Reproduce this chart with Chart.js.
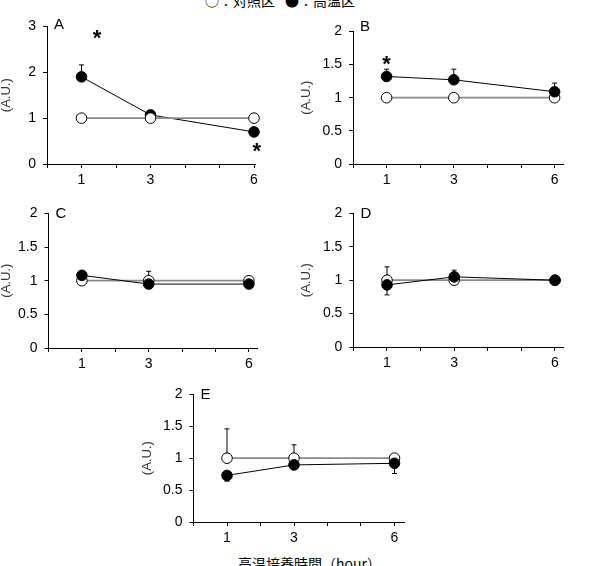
<!DOCTYPE html>
<html>
<head>
<meta charset="utf-8">
<script src="https://cdn.jsdelivr.net/npm/chart.js@4.4.1/dist/chart.umd.min.js"></script>
<style>
  html, body { margin: 0; padding: 0; background: #fff; }
  #wrap { position: relative; width: 615px; height: 566px; overflow: hidden; background: #fff; }
  #wrap canvas { position: absolute; }
  .txt { position: absolute; white-space: pre; color: #000;
         font-family: "Noto Sans CJK JP", "Liberation Sans", sans-serif; font-size: 14px; line-height: 14px; }
</style>
</head>
<body>
<div id="wrap">
  <div class="txt" id="leg1" style="left:205px; top:-7px;"></div>
  <div class="txt" id="leg2" style="left:285px; top:-7px;"></div>
  <div class="txt" id="xtitle" style="left:238px; top:556px;"></div>
</div>
<script>
// data
const hours = [1, 3, 6];
const hourLabels = [1, 3, 6];
const legendLabels = ['○：対照区', '●：高温区'];
const xTitle = '高温培養時間（hour）';
const yTitle = '(A.U.)';

const controlA = [1, 1, 1];
const heatA = [1.90, 1.07, 0.70];
const controlErrA = [0, 0, 0];
const heatErrA = [0.26, 0, 0];      // + = bar upward, - = bar downward
const starsA = [{x: 1.45, y: 2.85}, {x: 6.08, y: 0.39}];

const controlB = [1, 1, 1];
const heatB = [1.32, 1.27, 1.09];
const controlErrB = [0, 0, 0];
const heatErrB = [0.11, 0.16, 0.13];
const starsB = [{x: 1, y: 1.58}];

const controlC = [1, 1, 1];
const heatC = [1.08, 0.95, 0.95];
const controlErrC = [0, 0.14, 0];
const heatErrC = [0, 0, 0];

const controlD = [1, 1, 1];
const heatD = [0.93, 1.05, 1.0];
const controlErrD = [0.2, 0, 0];
const heatErrD = [-0.15, 0.1, 0];

const controlE = [1, 1, 1];
const heatE = [0.73, 0.895, 0.92];
const controlErrE = [0.46, 0.21, 0];
const heatErrE = [-0.09, 0, -0.16];

const panels = [
  {letter: 'A', control: controlA, heat: heatA, cErr: controlErrA, hErr: heatErrA, stars: starsA,
   yMax: 3, yStep: 1, controlOnTop: true,
   axisX: 47, top: 25, bottom: 164, unit: 34.5, xMax: 6.05, titleX: 7, letterDy: -2},
  {letter: 'B', control: controlB, heat: heatB, cErr: controlErrB, hErr: heatErrB, stars: starsB,
   yMax: 2, yStep: 0.5, controlOnTop: false,
   axisX: 353, top: 30, bottom: 164, unit: 33.6, xMax: 6.25, titleX: 307, letterDy: -5},
  {letter: 'C', control: controlC, heat: heatC, cErr: controlErrC, hErr: heatErrC, stars: [],
   yMax: 2, yStep: 0.5, controlOnTop: false,
   axisX: 48.5, top: 212, bottom: 348, unit: 33.4, xMax: 6.25, titleX: 7, letterDy: 0},
  {letter: 'D', control: controlD, heat: heatD, cErr: controlErrD, hErr: heatErrD, stars: [],
   yMax: 2, yStep: 0.5, controlOnTop: false,
   axisX: 353.4, top: 212, bottom: 347, unit: 33.6, xMax: 6.25, titleX: 307, letterDy: 0},
  {letter: 'E', control: controlE, heat: heatE, cErr: controlErrE, hErr: heatErrE, stars: [],
   yMax: 2, yStep: 0.5, controlOnTop: false,
   axisX: 193.5, top: 393, bottom: 522, unit: 33.5, xMax: 6.3, titleX: 148, letterDy: 0}
];

document.getElementById('leg1').textContent = legendLabels[0];
document.getElementById('leg2').textContent = legendLabels[1];
document.getElementById('xtitle').textContent = xTitle;

Chart.defaults.font.family = '"Liberation Sans", Arial, sans-serif';
Chart.defaults.color = '#000';

const extras = {
  id: 'extras',
  beforeDatasetsDraw(chart) {
    const {ctx, scales: {x, y}} = chart;
    ctx.save();
    ctx.strokeStyle = '#000';
    ctx.lineWidth = 1;
    chart.data.datasets.forEach(ds => {
      (ds.err || []).forEach((e, i) => {
        if (!e) return;
        const px = x.getPixelForValue(ds.data[i].x);
        const y0 = y.getPixelForValue(ds.data[i].y);
        const y1 = y.getPixelForValue(ds.data[i].y + e);
        ctx.beginPath();
        ctx.moveTo(px, y0); ctx.lineTo(px, y1);
        ctx.moveTo(px - 2.5, y1); ctx.lineTo(px + 2.5, y1);
        ctx.stroke();
      });
    });
    ctx.restore();
  },
  afterDatasetsDraw(chart, args, opts) {
    const {ctx, chartArea, scales: {x, y}} = chart;
    ctx.save();
    ctx.fillStyle = '#000';
    ctx.font = '15px "Liberation Sans", Arial, sans-serif';
    ctx.textBaseline = 'middle';
    ctx.textAlign = 'left';
    ctx.fillText(opts.letter, chartArea.left + 7, chartArea.top + opts.letterDy);
    ctx.font = 'bold 22px "Liberation Sans", Arial, sans-serif';
    ctx.textAlign = 'center';
    ctx.textBaseline = 'alphabetic';
    (opts.stars || []).forEach(s => {
      ctx.fillText('*', x.getPixelForValue(s.x), y.getPixelForValue(s.y) + 12);
    });
    ctx.restore();
  }
};

const wrap = document.getElementById('wrap');
const padTop = 14, xAxisH = 32;
const titleSize = 13;

panels.forEach(p => {
  const titleHalf = titleSize * 1.2 / 2;
  const left = Math.round(p.titleX - titleHalf);
  const yW = p.axisX - left;
  const plotRight = p.axisX + p.xMax * p.unit;
  const width = Math.round(plotRight - left + 12);
  const padRight = width - (plotRight - left);
  const top = Math.round(p.top - padTop);
  const pt = p.top - top;
  const height = Math.round(p.bottom - top + xAxisH);
  const xh = height - (p.bottom - top);

  const canvas = document.createElement('canvas');
  canvas.width = width;
  canvas.height = height;
  canvas.style.left = left + 'px';
  canvas.style.top = top + 'px';
  wrap.appendChild(canvas);

  const pts = vals => hours.map((h, i) => ({x: h, y: vals[i]}));

  new Chart(canvas, {
    type: 'scatter',
    data: {
      datasets: [
        {
          label: legendLabels[0], data: pts(p.control), err: p.cErr,
          showLine: true, borderColor: '#8a8a8a', borderWidth: 1.8,
          pointBackgroundColor: '#fff', pointBorderColor: '#000', pointBorderWidth: 1,
          pointRadius: 5.3, clip: false, order: p.controlOnTop ? 0 : 1
        },
        {
          label: legendLabels[1], data: pts(p.heat), err: p.hErr,
          showLine: true, borderColor: '#000', borderWidth: 1,
          pointBackgroundColor: '#000', pointBorderColor: '#000', pointBorderWidth: 1,
          pointRadius: 5.3, clip: false, order: p.controlOnTop ? 1 : 0
        }
      ]
    },
    options: {
      responsive: false,
      animation: false,
      events: [],
      layout: {padding: {top: pt, right: padRight, left: 0, bottom: 0}},
      plugins: {
        legend: {display: false},
        tooltip: {enabled: false},
        extras: {letter: p.letter, letterDy: p.letterDy, stars: p.stars}
      },
      scales: {
        x: {
          type: 'linear', min: 0, max: p.xMax,
          afterFit: s => { s.height = xh; },
          ticks: {
            stepSize: 1, includeBounds: false, autoSkip: false, maxRotation: 0,
            padding: 4, font: {size: 14},
            callback: v => hourLabels.includes(v) ? String(v) : ''
          },
          grid: {drawOnChartArea: false, tickLength: 4, color: '#000'},
          border: {color: '#000'}
        },
        y: {
          type: 'linear', min: 0, max: p.yMax,
          afterFit: s => { s.width = yW; },
          ticks: {stepSize: p.yStep, padding: 7, font: {size: 14}, callback: v => String(v)},
          grid: {drawOnChartArea: false, tickLength: 4, color: '#000'},
          border: {color: '#000'},
          title: {display: true, text: yTitle, padding: 0, color: '#333', font: {size: titleSize}}
        }
      }
    },
    plugins: [extras]
  });
});
</script>
</body>
</html>
